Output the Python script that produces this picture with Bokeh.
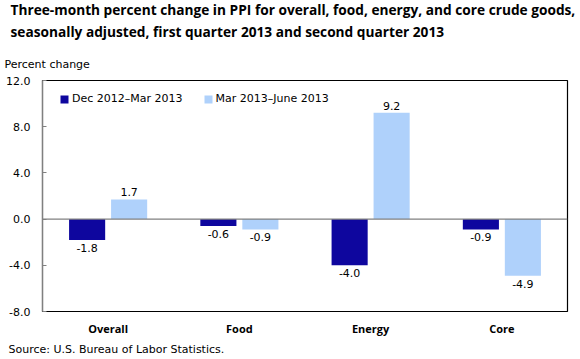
from bokeh.plotting import figure
from bokeh.models import (ColumnDataSource, Range1d, FactorRange, FixedTicker,
                          NumeralTickFormatter, Title, Legend, LegendItem, Span)
from bokeh.transform import dodge
from bokeh.core.properties import value
from bokeh.embed import file_html
from bokeh.resources import INLINE

categories = ["Overall", "Food", "Energy", "Core"]
series_names = ["Dec 2012\u2013Mar 2013", "Mar 2013\u2013June 2013"]
q1_values = [-1.8, -0.6, -4.0, -0.9]
q2_values = [1.7, -0.9, 9.2, -4.9]
y_ticks = [-8, -4, 0, 4, 8, 12]

title_lines = ["Three-month percent change in PPI for overall, food, energy, and core crude goods,",
               "seasonally adjusted, first quarter 2013 and second quarter 2013"]
y_title = "Percent change"
source_note = "Source: U.S. Bureau of Labor Statistics."

DARK = "#0E069E"
LIGHT = "#AFD1FB"
FONT = "DejaVu Sans"
TITLE_FONT = "Open Sans"

def fmt(v):
    return "%.1f" % v

def make_src(vals):
    return ColumnDataSource(dict(
        cat=categories,
        val=vals,
        lab=[fmt(v) for v in vals],
        base=["bottom" if v >= 0 else "top" for v in vals],
        off=[-3 if v >= 0 else 4 for v in vals],
    ))

src1 = make_src(q1_values)
src2 = make_src(q2_values)

W, H = 580, 359
FL = 42  # frame left in canvas px
p = figure(width=W, height=H, x_range=FactorRange(*categories, range_padding=0),
           y_range=Range1d(y_ticks[0], y_ticks[-1]),
           output_backend="svg", toolbar_location=None, title=None,
           min_border_left=FL, min_border_right=13, min_border_top=80, min_border_bottom=48)
p.x_range.range_padding = 0
p.grid.visible = False
p.outline_line_color = "black"
p.outline_line_width = 1.2
p.background_fill_color = "white"
p.border_fill_color = "white"

off = 0.16
bw = 0.275
r1 = p.vbar(x=dodge("cat", -off, range=p.x_range), top="val", bottom=0, width=bw,
            source=src1, fill_color=DARK, line_color=None)
r2 = p.vbar(x=dodge("cat", off, range=p.x_range), top="val", bottom=0, width=bw,
            source=src2, fill_color=LIGHT, line_color=None)

for src, d in ((src1, -off), (src2, off)):
    p.text(x=dodge("cat", d, range=p.x_range), y="val", text="lab", source=src,
           text_align="center", text_baseline="base", y_offset="off",
           text_font=value(FONT), text_font_size="11px", text_color="black")

p.add_layout(Span(location=0, dimension="width", line_color="#808080", line_width=1.2))

# y axis
ya = p.yaxis[0]
ya.ticker = FixedTicker(ticks=y_ticks)
ya.formatter = NumeralTickFormatter(format="0.0")
ya.axis_line_color = "#808080"
ya.axis_line_width = 1.2
ya.major_tick_in = 4
ya.major_tick_out = 0
ya.major_tick_line_color = "#808080"
ya.minor_tick_line_color = None
ya.major_label_text_font = FONT
ya.major_label_text_font_size = "11px"
ya.major_label_text_color = "black"
ya.major_label_standoff = 12

xa = p.xaxis[0]
xa.axis_line_color = None
xa.major_tick_line_color = None
xa.minor_tick_line_color = None
xa.major_label_text_font = TITLE_FONT
xa.major_label_text_font_style = "bold"
xa.major_label_text_font_size = "11px"
xa.major_label_text_color = "black"
xa.major_label_standoff = 3

legend = Legend(items=[LegendItem(label=series_names[0], renderers=[r1]),
                       LegendItem(label=series_names[1], renderers=[r2])],
                orientation="horizontal", location=(17, 206),
                border_line_color=None, background_fill_alpha=0,
                padding=0, margin=0, spacing=20, label_standoff=3,
                glyph_width=10, glyph_height=10,
                label_text_font=FONT, label_text_font_size="11px",
                label_text_color="black")
p.add_layout(legend, "center")

# texts outside the frame as Title panels (first added = closest to frame)
p.add_layout(Title(text=y_title, align="left", offset=4 - FL, standoff=20,
                   text_font=FONT, text_font_size="11px", text_font_style="normal",
                   text_color="black"), "above")
p.add_layout(Title(text=title_lines[1], align="left", offset=10 - FL, standoff=9,
                   text_font=TITLE_FONT, text_font_size="13.7px", text_font_style="bold",
                   text_color="black"), "above")
p.add_layout(Title(text=title_lines[0], align="left", offset=10 - FL, standoff=-6,
                   text_font=TITLE_FONT, text_font_size="13.7px", text_font_style="bold",
                   text_color="black"), "above")
p.add_layout(Title(text=source_note, align="left", offset=8 - FL, standoff=4,
                   text_font=FONT, text_font_size="11px", text_font_style="normal",
                   text_color="black"), "below")

open("out.html", "w").write(file_html(p, INLINE))
